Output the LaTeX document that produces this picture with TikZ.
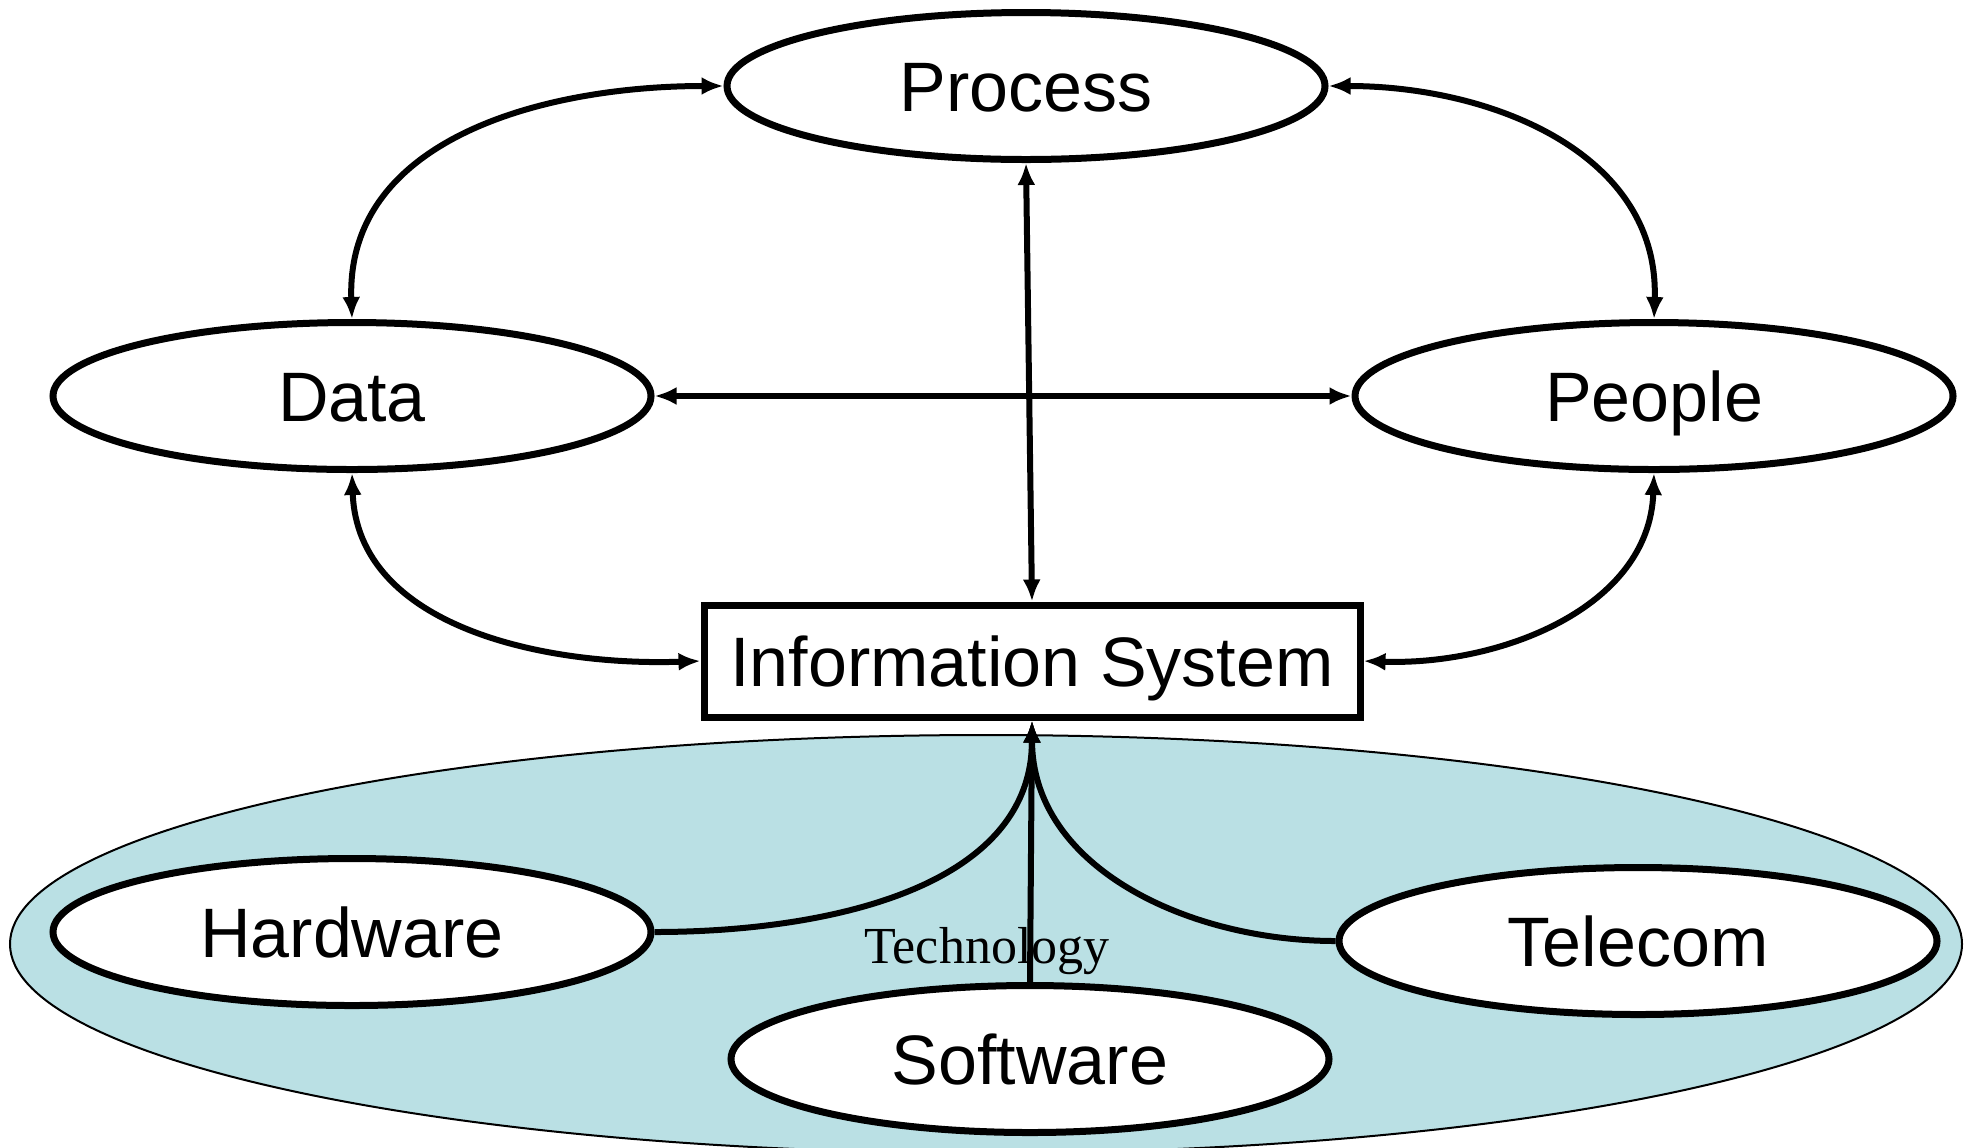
\documentclass[tikz,border=0pt]{standalone}
\usepackage{fontspec}
\setmainfont{Liberation Sans}
\newfontfamily\timesfont{Liberation Serif}
\usetikzlibrary{shapes.geometric,arrows.meta}
\definecolor{techblue}{RGB}{186,224,228}
\tikzset{
  oval/.style={ellipse, draw=black, line width=3.5pt, fill=white, inner sep=0pt,
    minimum width=299pt, minimum height=73.5pt, font=\fontsize{35}{40}\selectfont,
    text height=25.2pt, text depth=0pt},
  isbox/.style={rectangle, draw=black, line width=3.5pt, fill=white, inner sep=0pt,
    minimum width=328pt, minimum height=56pt, font=\fontsize{35}{40}\selectfont,
    text height=25.2pt, text depth=0pt},
  conn/.style={line width=3pt, draw=black},
  tip/.style={-{Latex[length=11pt,width=9pt]}},
  bitip/.style={{Latex[length=11pt,width=9pt]}-{Latex[length=11pt,width=9pt]}},
}
\begin{document}
\begin{tikzpicture}[x=0.5pt,y=-0.5pt]
\useasboundingbox (0,0) rectangle (1973,1147);
\clip (0,0) rectangle (1973,1147);
% technology background
\filldraw[fill=techblue, draw=black, line width=1pt] (986,944) ellipse [x radius=488pt, y radius=104.5pt];
\node[font=\timesfont\fontsize{26}{30}\selectfont, text height=17pt, text depth=0pt] (tech) at (987,946) {Technology};
% nodes
\node[oval] (process) at (1026,86) {Process};
\node[oval] (data) at (352,396) {Data};
\node[oval] (people) at (1654,396) {People};
\node[isbox] (is) at (1032,661) {Information System};
\node[oval] (hardware) at (352,932) {Hardware};
\node[oval] (telecom) at (1638,941) {Telecom};
\node[oval] (software) at (1030,1059) {Software};
% connectors
\draw[conn,bitip] (process.west) to[out=180,in=92,looseness=1.05] (data.north);
\draw[conn,bitip] (process.east) to[out=0,in=88,looseness=1.05] (people.north);
\draw[conn,bitip] (process.south) -- (is.north);
\draw[conn,bitip] (data.east) -- (people.west);
\draw[conn,bitip] (data.south) to[out=-88,in=182,looseness=1.0] (is.west);
\draw[conn,bitip] (people.south) to[out=-92,in=-2,looseness=1.0] (is.east);
\draw[conn,tip] (hardware.east) to[out=0,in=-90,looseness=1.0] (is.south);
\draw[conn,tip] (telecom.west) to[out=180,in=-90,looseness=1.0] (is.south);
\draw[conn,tip] (software.north) -- (is.south);
\end{tikzpicture}
\end{document}
